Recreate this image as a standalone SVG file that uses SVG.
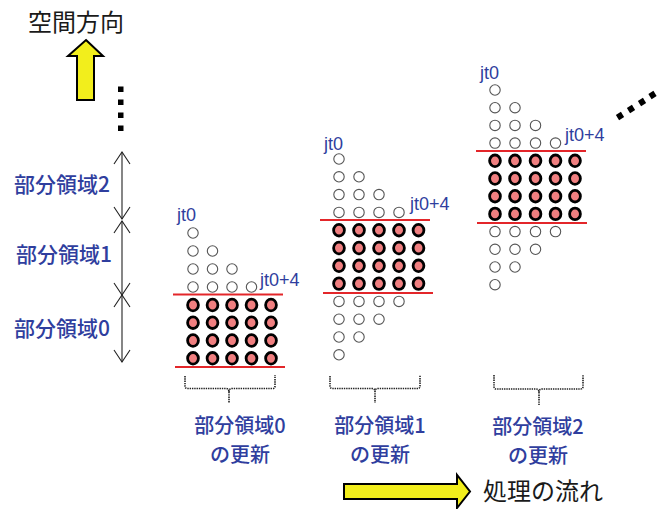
<svg xmlns="http://www.w3.org/2000/svg" xmlns:xlink="http://www.w3.org/1999/xlink" width="665" height="509" viewBox="0 0 665 509">
<style>
.cjk{font-family:"Noto Sans CJK JP","Noto Sans CJK SC",sans-serif}
.blue{fill:#2F3E9E;font-weight:500}
.dark{fill:#1a1a1a}
.lbl{font-size:21px}
.lbl2{font-size:20px}
.jt{font-family:"Liberation Sans",Arial,sans-serif;font-size:18px;fill:#2F3E9E}
.red{stroke:#E3262A;stroke-width:2}
.brace{fill:none;stroke:#222;stroke-width:1.6;stroke-dasharray:1.4 0.9}
.ax{stroke:#222;stroke-width:1.1;fill:none}
.yarrow{fill:#F2EE1C;stroke:#000;stroke-width:2;stroke-linejoin:miter}
</style>
<defs>
<circle id="o" r="5.2" fill="#fff" stroke="#555" stroke-width="1.1"/>
<ellipse id="f" rx="5.4" ry="5.8" fill="#F07F80" stroke="#000" stroke-width="2.8"/>
<marker id="ah" viewBox="0 0 16 16" markerWidth="16" markerHeight="16" refX="12" refY="8" orient="auto-start-reverse" markerUnits="userSpaceOnUse" overflow="visible">
<path d="M0,0 L12,8 L0,16" fill="none" stroke="#222" stroke-width="1.1"/>
</marker>
</defs>
<rect width="665" height="509" fill="#fff"/>

<g id="title">
<text class="cjk dark" x="28" y="31" font-size="24">空間方向</text>
<polygon class="yarrow" points="86,40 103,56 94,56 94,100 77,100 77,56 68,56"/>
<g fill="#000">
<rect x="118" y="86.5" width="5.5" height="5.5"/>
<rect x="118" y="99.5" width="5.5" height="5.5"/>
<rect x="118" y="112.5" width="5.5" height="5.5"/>
<rect x="118" y="125.5" width="5.5" height="5.5"/>
</g>
</g>

<g id="region-labels">
<text class="cjk blue lbl" x="14" y="192">部分領域2</text>
<text class="cjk blue lbl" x="16" y="262">部分領域1</text>
<text class="cjk blue lbl" x="14" y="336">部分領域0</text>
</g>

<g id="connectors">
<line class="ax" x1="122" y1="152" x2="122" y2="219" marker-start="url(#ah)" marker-end="url(#ah)"/>
<line class="ax" x1="122" y1="221" x2="122" y2="295" marker-start="url(#ah)" marker-end="url(#ah)"/>
<line class="ax" x1="122" y1="295" x2="122" y2="362" marker-start="url(#ah)" marker-end="url(#ah)"/>
</g>

<g id="group0">
<text class="jt" x="177" y="221">jt0</text>
<text class="jt" x="260" y="286">jt0+4</text>
<use href="#o" x="193" y="233"/>
<use href="#o" x="193" y="251"/><use href="#o" x="212.5" y="251"/>
<use href="#o" x="193" y="269"/><use href="#o" x="212.5" y="269"/><use href="#o" x="232" y="269"/>
<use href="#o" x="193" y="287"/><use href="#o" x="212.5" y="287"/><use href="#o" x="232" y="287"/><use href="#o" x="251.5" y="287"/>
<use href="#f" x="193" y="305"/><use href="#f" x="212.5" y="305"/><use href="#f" x="232" y="305"/><use href="#f" x="251.5" y="305"/><use href="#f" x="271" y="305"/>
<use href="#f" x="193" y="322.7"/><use href="#f" x="212.5" y="322.7"/><use href="#f" x="232" y="322.7"/><use href="#f" x="251.5" y="322.7"/><use href="#f" x="271" y="322.7"/>
<use href="#f" x="193" y="340.5"/><use href="#f" x="212.5" y="340.5"/><use href="#f" x="232" y="340.5"/><use href="#f" x="251.5" y="340.5"/><use href="#f" x="271" y="340.5"/>
<use href="#f" x="193" y="358.3"/><use href="#f" x="212.5" y="358.3"/><use href="#f" x="232" y="358.3"/><use href="#f" x="251.5" y="358.3"/><use href="#f" x="271" y="358.3"/>
<line class="red" x1="173" y1="294.5" x2="283" y2="294.5"/>
<line class="red" x1="175" y1="367" x2="285" y2="367"/>
</g>

<g id="group1">
<text class="jt" x="324" y="150">jt0</text>
<text class="jt" x="410" y="210">jt0+4</text>
<use href="#o" x="339" y="159"/>
<use href="#o" x="339" y="176.8"/><use href="#o" x="359" y="176.8"/>
<use href="#o" x="339" y="194.6"/><use href="#o" x="359" y="194.6"/><use href="#o" x="379" y="194.6"/>
<use href="#o" x="339" y="212.4"/><use href="#o" x="359" y="212.4"/><use href="#o" x="379" y="212.4"/><use href="#o" x="399" y="212.4"/>
<use href="#f" x="339" y="230.2"/><use href="#f" x="359" y="230.2"/><use href="#f" x="379" y="230.2"/><use href="#f" x="399" y="230.2"/><use href="#f" x="418.5" y="230.2"/>
<use href="#f" x="339" y="248"/><use href="#f" x="359" y="248"/><use href="#f" x="379" y="248"/><use href="#f" x="399" y="248"/><use href="#f" x="418.5" y="248"/>
<use href="#f" x="339" y="265.8"/><use href="#f" x="359" y="265.8"/><use href="#f" x="379" y="265.8"/><use href="#f" x="399" y="265.8"/><use href="#f" x="418.5" y="265.8"/>
<use href="#f" x="339" y="283.6"/><use href="#f" x="359" y="283.6"/><use href="#f" x="379" y="283.6"/><use href="#f" x="399" y="283.6"/><use href="#f" x="418.5" y="283.6"/>
<use href="#o" x="339" y="301.4"/><use href="#o" x="359" y="301.4"/><use href="#o" x="379" y="301.4"/><use href="#o" x="399" y="301.4"/>
<use href="#o" x="339" y="319.2"/><use href="#o" x="359" y="319.2"/><use href="#o" x="379" y="319.2"/>
<use href="#o" x="339" y="337"/><use href="#o" x="359" y="337"/>
<use href="#o" x="339" y="354.8"/>
<line class="red" x1="320" y1="220" x2="430" y2="220"/>
<line class="red" x1="323" y1="293" x2="433" y2="293"/>
</g>

<g id="group2">
<text class="jt" x="480" y="79">jt0</text>
<text class="jt" x="565" y="141">jt0+4</text>
<use href="#o" x="495" y="90"/>
<use href="#o" x="495" y="107.7"/><use href="#o" x="515" y="107.7"/>
<use href="#o" x="495" y="125.4"/><use href="#o" x="515" y="125.4"/><use href="#o" x="535.5" y="125.4"/>
<use href="#o" x="495" y="143.1"/><use href="#o" x="515" y="143.1"/><use href="#o" x="535.5" y="143.1"/><use href="#o" x="555.5" y="143.1"/>
<use href="#f" x="495" y="160.8"/><use href="#f" x="515" y="160.8"/><use href="#f" x="535.5" y="160.8"/><use href="#f" x="555.5" y="160.8"/><use href="#f" x="575" y="160.8"/>
<use href="#f" x="495" y="178.5"/><use href="#f" x="515" y="178.5"/><use href="#f" x="535.5" y="178.5"/><use href="#f" x="555.5" y="178.5"/><use href="#f" x="575" y="178.5"/>
<use href="#f" x="495" y="196.2"/><use href="#f" x="515" y="196.2"/><use href="#f" x="535.5" y="196.2"/><use href="#f" x="555.5" y="196.2"/><use href="#f" x="575" y="196.2"/>
<use href="#f" x="495" y="213.9"/><use href="#f" x="515" y="213.9"/><use href="#f" x="535.5" y="213.9"/><use href="#f" x="555.5" y="213.9"/><use href="#f" x="575" y="213.9"/>
<use href="#o" x="495" y="231.6"/><use href="#o" x="515" y="231.6"/><use href="#o" x="535.5" y="231.6"/><use href="#o" x="555.5" y="231.6"/>
<use href="#o" x="495" y="249.3"/><use href="#o" x="515" y="249.3"/><use href="#o" x="535.5" y="249.3"/>
<use href="#o" x="495" y="267"/><use href="#o" x="515" y="267"/>
<use href="#o" x="495" y="284.7"/>
<line class="red" x1="476" y1="151" x2="586" y2="151"/>
<line class="red" x1="477" y1="223" x2="587" y2="223"/>
<g fill="#000">
<rect x="-3" y="-3" width="6" height="6" transform="translate(620,116) rotate(-33)"/>
<rect x="-3" y="-3" width="6" height="6" transform="translate(631,109) rotate(-33)"/>
<rect x="-3" y="-3" width="6" height="6" transform="translate(642,102) rotate(-33)"/>
<rect x="-3" y="-3" width="6" height="6" transform="translate(652.5,95) rotate(-33)"/>
</g>
</g>

<g id="braces">
<path class="brace" d="M185,376 V386 Q185,388.5 187.5,388.5 H226 Q229,388.5 229,392 V403 M229,392 Q229,388.5 232,388.5 H272.5 Q275,388.5 275,386 V375"/>
<path class="brace" d="M330,376 V386 Q330,388.5 332.5,388.5 H372 Q375,388.5 375,392 V403 M375,392 Q375,388.5 378,388.5 H417.5 Q420,388.5 420,386 V375"/>
<path class="brace" d="M494,375 V386.5 Q494,389 496.5,389 H536 Q539,389 539,392.5 V405 M539,392.5 Q539,389 542,389 H580.5 Q583,389 583,386.5 V375"/>
</g>

<g id="update-labels" text-anchor="middle">
<text class="cjk blue lbl2"><tspan x="240" y="432.5">部分領域0</tspan><tspan x="240" y="461.5">の更新</tspan></text>
<text class="cjk blue lbl2"><tspan x="380" y="432.5">部分領域1</tspan><tspan x="380" y="461.5">の更新</tspan></text>
<text class="cjk blue lbl2"><tspan x="538" y="434">部分領域2</tspan><tspan x="538" y="463">の更新</tspan></text>
</g>

<g id="flow">
<polygon class="yarrow" points="344,484 457,484 457,475 470,491.5 457,508 457,499 344,499"/>
<text class="cjk dark" x="483" y="500" font-size="24">処理の流れ</text>
</g>
</svg>
